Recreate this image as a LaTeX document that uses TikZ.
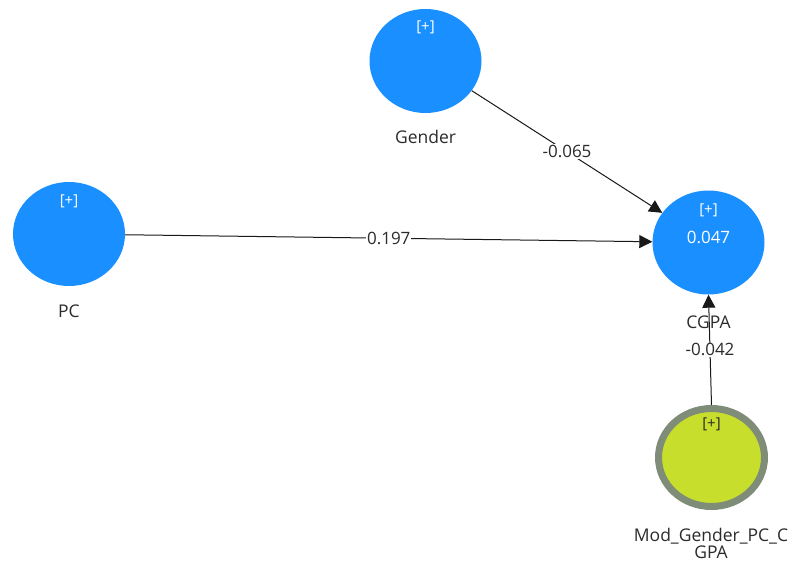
\documentclass[tikz,border=0pt]{standalone}
\usepackage{fontspec}
\setmainfont{Open Sans}
\usetikzlibrary{arrows.meta,shapes.geometric}
\definecolor{lvblue}{HTML}{1A8FFF}
\definecolor{modfill}{HTML}{C8DE2C}
\definecolor{modring}{HTML}{7E8C78}
\definecolor{txt}{HTML}{2B2B2B}
\tikzset{
  lv/.style={ellipse, fill=lvblue, minimum width=112pt, minimum height=104pt, inner sep=0pt},
  modlv/.style={ellipse, fill=modfill, draw=modring, line width=7pt, minimum width=106pt, minimum height=98pt, inner sep=0pt},
  plus/.style={text=white, font=\fontsize{15}{18}\selectfont},
  varname/.style={text=txt, font=\fontsize{17.5}{17}\selectfont, align=center},
  pathline/.style={draw=black!90, line width=1pt, -{Triangle[length=13pt,width=13pt]}},
  coef/.style={fill=white, text=txt, font=\fontsize{17}{18}\selectfont, inner sep=1pt}
}
\begin{document}
\begin{tikzpicture}[x=1pt,y=-1pt]
\useasboundingbox (0,0) rectangle (793,568);
% latent variables
\node[lv] (gender) at (425.5,61) {};
\node[lv] (pc) at (69,234) {};
\node[lv] (cgpa) at (708.5,242.5) {};
\node[modlv] (mod) at (711.5,457.5) {};
% inner labels
\node[plus] (gplus) at (425.5,27) {[+]};
\node[plus] (pplus) at (69,201) {[+]};
\node[plus] (cplus) at (708.5,210) {[+]};
\node[text=white, font=\fontsize{17}{18}\selectfont] (r2) at (708.5,237) {0.047};
\node[plus, text=txt] (mplus) at (711.5,424) {[+]};
% structural paths
\draw[pathline] (gender) -- node[coef] {-0.065} (cgpa);
\draw[pathline] (pc) -- node[coef, pos=0.5] {0.197} (cgpa);
\draw[pathline] (mod.north) -- node[coef, pos=0.5] {-0.042} (cgpa.south);
% names below the variables
\node[varname] (gname) at (425.5,137) {Gender};
\node[varname] (pname) at (69,311) {PC};
\node[varname] (cname) at (708.5,322) {CGPA};
\node[varname] (mname) at (711,543.5) {Mod\_Gender\_PC\_C\\GPA};
\end{tikzpicture}
\end{document}
